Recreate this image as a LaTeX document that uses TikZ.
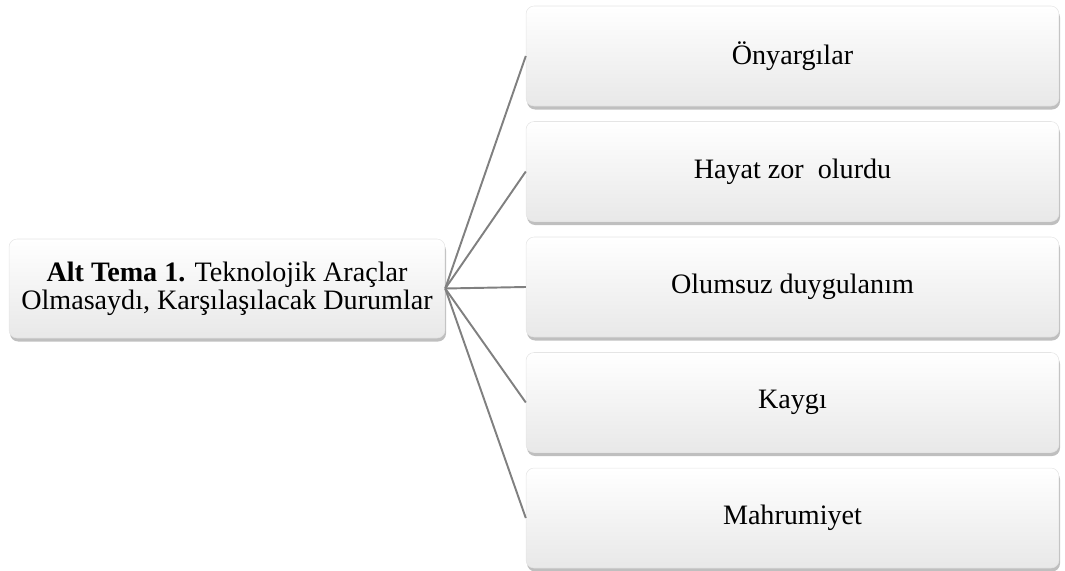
\documentclass[tikz,border=0pt]{standalone}
\usepackage{fontspec}
\setmainfont{LiberationSerif}[
  Extension=.ttf,
  UprightFont=*-Regular,
  BoldFont=*-Bold,
  ItalicFont=*-Italic,
  BoldItalicFont=*-BoldItalic]
\usetikzlibrary{shadows}

\begin{document}
\begin{tikzpicture}[
  x=0.02cm,
  y=-0.02cm
]

% ノードのスタイル
\tikzset{
  box/.style={rounded corners=0.16cm, draw=gray!20, line width=0.3pt,
    top color=white, middle color=white, bottom color=gray!18,
    drop shadow={shadow xshift=0.6pt, shadow yshift=-2pt, opacity=0.5},
    align=center, inner sep=2pt, font=\fontsize{16}{16}\selectfont},
  themebox/.style={box, minimum width=8.72cm, minimum height=1.98cm},
  subbox/.style={box, minimum width=10.66cm, minimum height=2cm},
  link/.style={draw=gray, line width=1.1pt}
}

% ===== 枠 =====
\useasboundingbox (0,0) rectangle (1065,571);

% ===== 主題 =====
\node[themebox] (theme) at (227,288.5)
  {\textbf{Alt Tema 1.} Teknolojik Araçlar\\Olmasaydı, Karşılaşılacak Durumlar};

% ===== 下位項目 =====
\foreach \i/\t in {1/Önyargılar, 2/Hayat zor~ olurdu, 3/Olumsuz duygulanım,
  4/Kaygı, 5/Mahrumiyet} {
  \node[subbox] (sub\i) at (792.5,{56+(\i-1)*115.5}) {\t};
}

% ===== 結線 =====
\foreach \i in {1,...,5} {
  \draw[link] (theme.east) -- (sub\i.west);
}

\end{tikzpicture}
\end{document}
